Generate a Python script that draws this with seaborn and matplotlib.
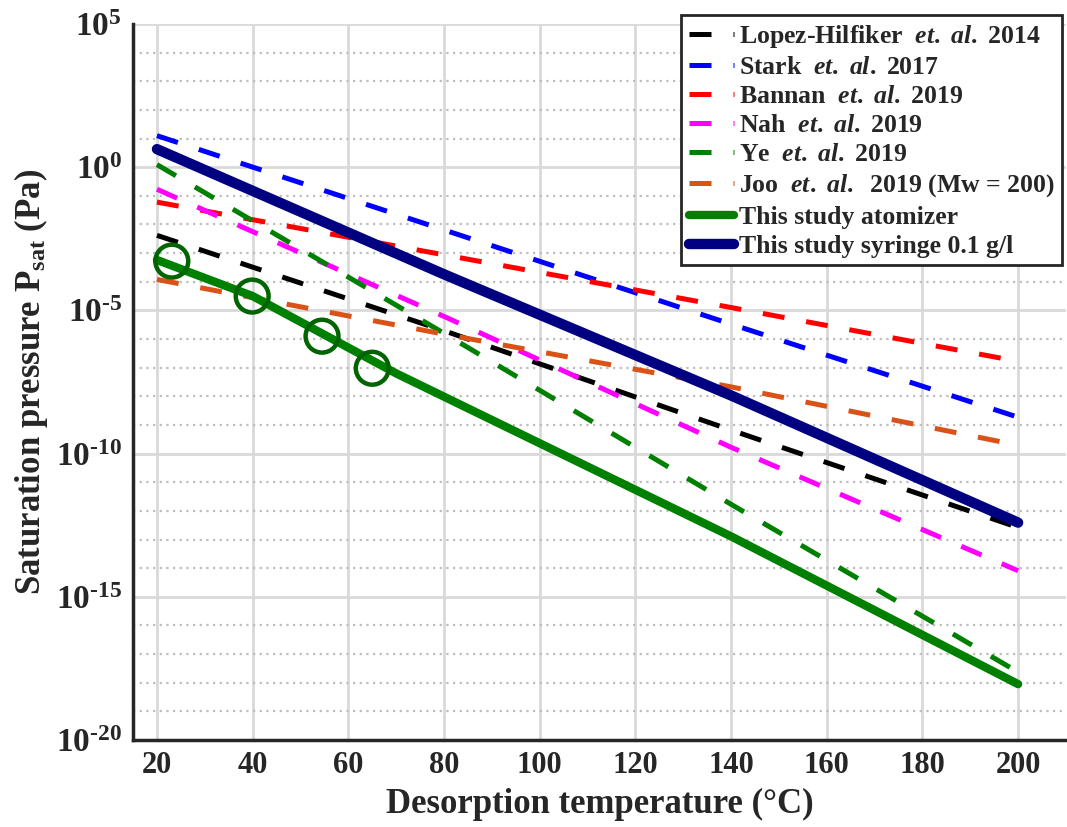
import numpy as np
import pandas as pd
import matplotlib
matplotlib.use('Agg')
import matplotlib.pyplot as plt
import matplotlib.ticker as mticker
import seaborn as sns

# temperatures (degC) at which the literature curves were read
temps = [20, 80, 140, 200]

# log10 of saturation pressure (Pa)
lopez_hilfiker = [-2.38, -5.71, -9.18, -12.58]
stark = [1.10, -2.19, -5.48, -8.73]
bannan = [-1.22, -3.06, -4.90, -6.78]
nah = [-0.77, -5.21, -9.78, -14.09]
ye = [0.09, -5.80, -11.77, -17.63]
joo = [-3.92, -5.83, -7.67, -9.71]
syringe = [0.63, -3.74, -7.97, -12.41]

atomizer_temps = [20, 40, 70, 140, 200]
atomizer = [-3.24, -4.50, -7.20, -12.89, -18.05]

# measured points (open circles)
marker_temps = [23.1, 39.9, 54.5, 65.0]
marker_logp = [-3.28, -4.50, -5.90, -7.02]

labels = [
    r'Lopez-Hilfiker  $\mathit{et.\ al.}$ 2014',
    r'Stark  $\mathit{et.\ al.}$ 2017',
    r'Bannan  $\mathit{et.\ al.}$ 2019',
    r'Nah  $\mathit{et.\ al.}$ 2019',
    r'Ye  $\mathit{et.\ al.}$ 2019',
    r'Joo  $\mathit{et.\ al.}$  2019 (Mw = 200)',
    'This study atomizer',
    'This study syringe 0.1 g/l',
]

sns.set_style('white')
plt.rcParams['font.family'] = ['Liberation Serif', 'DejaVu Serif']
plt.rcParams['font.weight'] = 'bold'
plt.rcParams['mathtext.fontset'] = 'custom'
plt.rcParams['mathtext.rm'] = 'Liberation Serif:bold'
plt.rcParams['mathtext.bf'] = 'Liberation Serif:bold'
plt.rcParams['mathtext.it'] = 'Liberation Serif:italic:bold'

fig = plt.figure(figsize=(10.67, 8.27), dpi=100)
ax = fig.add_axes([0.1247, 0.1052, 0.8743, 0.8658])

dash = (0, (4.4, 4.4))
dashed_series = [
    (lopez_hilfiker, 'black'),
    (stark, '#0000ff'),
    (bannan, '#ff0000'),
    (nah, '#ff00ff'),
    (ye, '#008000'),
    (joo, '#d95319'),
]
for i, (vals, col) in enumerate(dashed_series):
    sns.lineplot(x=temps, y=10.0 ** np.array(vals), ax=ax, color=col,
                 lw=3.6, linestyle=dash, label=labels[i])

sns.lineplot(x=atomizer_temps, y=10.0 ** np.array(atomizer), ax=ax,
             color='#008000', lw=6, label=labels[6])
sns.lineplot(x=temps, y=10.0 ** np.array(syringe), ax=ax,
             color='#000080', lw=7.5, label=labels[7])
sns.scatterplot(x=marker_temps, y=10.0 ** np.array(marker_logp), ax=ax,
                s=560, facecolor='none', edgecolor='#006400', linewidth=3.2,
                zorder=5, legend=False)

ax.set_yscale('log')
ax.set_ylim(1e-20, 1e5)
ax.set_xlim(15, 210)
ax.set_xticks(range(20, 201, 20))
ax.yaxis.set_major_locator(mticker.FixedLocator([10.0 ** e for e in range(-20, 6, 5)]))
ax.yaxis.set_minor_locator(mticker.FixedLocator([10.0 ** e for e in range(-20, 6)]))
ax.yaxis.set_minor_formatter(mticker.NullFormatter())


def pow_label(v, pos):
    e = int(round(np.log10(v)))
    # hyphen instead of the wide math minus, like the original
    s = str(abs(e)) if e >= 0 else '\u2010' + str(abs(e))
    return r'$\mathbf{10^{%s}}$' % s


ax.yaxis.set_major_formatter(mticker.FuncFormatter(pow_label))

ax.grid(True, which='major', axis='both', color='#d9d9d9', lw=2)
ax.grid(True, which='minor', axis='y', color='#bdbdbd', lw=1.6, ls=(0, (1, 2)))
ax.set_axisbelow(True)

for s in ['top', 'right']:
    ax.spines[s].set_visible(False)
for s in ['left', 'bottom']:
    ax.spines[s].set_color('#262626')
    ax.spines[s].set_linewidth(2.5)
ax.tick_params(axis='both', which='major', direction='in', length=11, width=2,
               color='#262626', pad=8)
ax.tick_params(axis='x', which='major', labelsize=22)
ax.tick_params(axis='y', which='major', labelsize=24)
ax.tick_params(axis='y', which='minor', direction='in', length=6, width=2,
               color='#262626')
ax.tick_params(axis='x', which='minor', bottom=False)

ax.set_xlabel('Desorption temperature (°C)', fontsize=25, fontweight='bold', labelpad=6)
ax.set_ylabel(r'Saturation pressure P$_{\mathbf{sat}}$ (Pa)', fontsize=25,
              fontweight='bold', labelpad=4)

leg = ax.legend(loc='upper right', bbox_to_anchor=(0.9957, 1.0126), fontsize=18.5,
                frameon=True, fancybox=False, edgecolor='#262626', framealpha=1,
                borderaxespad=0, handlelength=1.75, handletextpad=0.2,
                labelspacing=0.24, borderpad=0.3)
leg.get_frame().set_linewidth(2)

fig.savefig('out.png', dpi=100)
